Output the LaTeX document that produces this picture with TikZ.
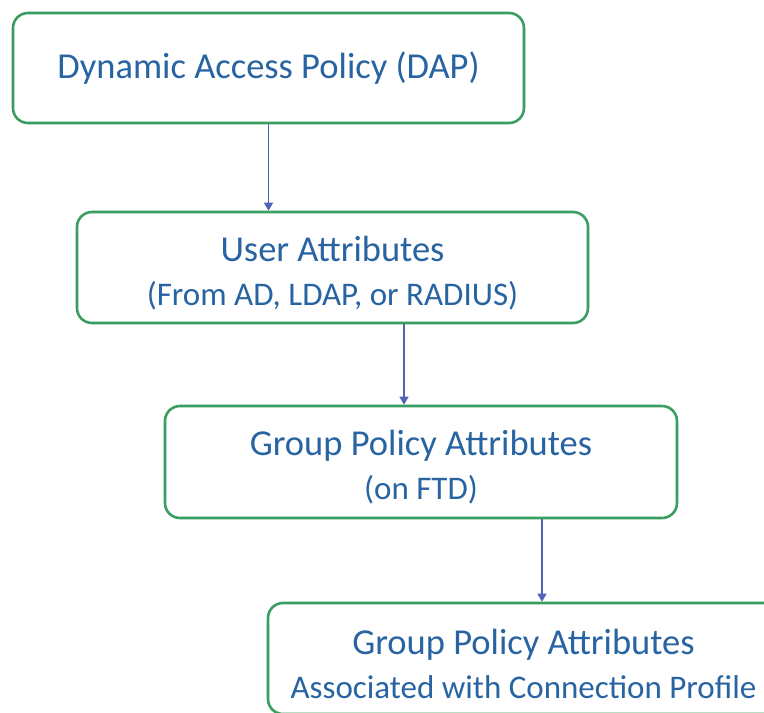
\documentclass[tikz,border=0pt]{standalone}
\usepackage{fontspec}
\setmainfont{Carlito}
\usetikzlibrary{arrows.meta}
\definecolor{txtblue}{RGB}{40,100,162}
\definecolor{boxgreen}{RGB}{58,158,96}
\definecolor{arrowblue}{RGB}{82,98,182}
\tikzset{
  flowbox/.style={draw=boxgreen, line width=2.6pt, rounded corners=15pt, fill=white,
    minimum width=511pt, minimum height=110pt, align=center, text=txtblue,
    inner sep=0pt, font=\fontsize{33}{44}\selectfont},
  flowarrow/.style={draw=arrowblue, line width=1.3pt, -{Triangle[width=9pt,length=8pt]}}
}
\newcommand{\mainline}[1]{{\fontsize{36.5}{44}\selectfont #1}}
\newcommand{\topstrut}{\rule{0pt}{36pt}}
\begin{document}
\begin{tikzpicture}[x=1pt,y=-1pt]
\useasboundingbox (0,0) rectangle (764,713);
\clip (0,0) rectangle (764,713);
\fill[white] (0,0) rectangle (764,713);
\node[flowbox] (b1) at (268.5,68) {\mainline{Dynamic Access Policy (DAP)}};
\node[flowbox, minimum height=111pt] (b2) at (332.5,267.5) {\topstrut\mainline{User Attributes}\\(From AD, LDAP, or RADIUS)};
\node[flowbox, minimum width=512pt, minimum height=112pt] (b3) at (421,462) {\topstrut\mainline{Group Policy Attributes}\\(on FTD)};
\node[flowbox, minimum height=111pt] (b4) at (523.5,658.5) {\topstrut\mainline{Group Policy Attributes}\\Associated with Connection Profile};
\coordinate (a2) at ([xshift=71.5pt]b2.south);
\coordinate (a3) at ([xshift=121pt]b3.south);
\draw[flowarrow] (b1.south) -- (b2.north -| b1.south);
\draw[flowarrow] (a2) -- (b3.north -| a2);
\draw[flowarrow] (a3) -- (b4.north -| a3);
\end{tikzpicture}
\end{document}
